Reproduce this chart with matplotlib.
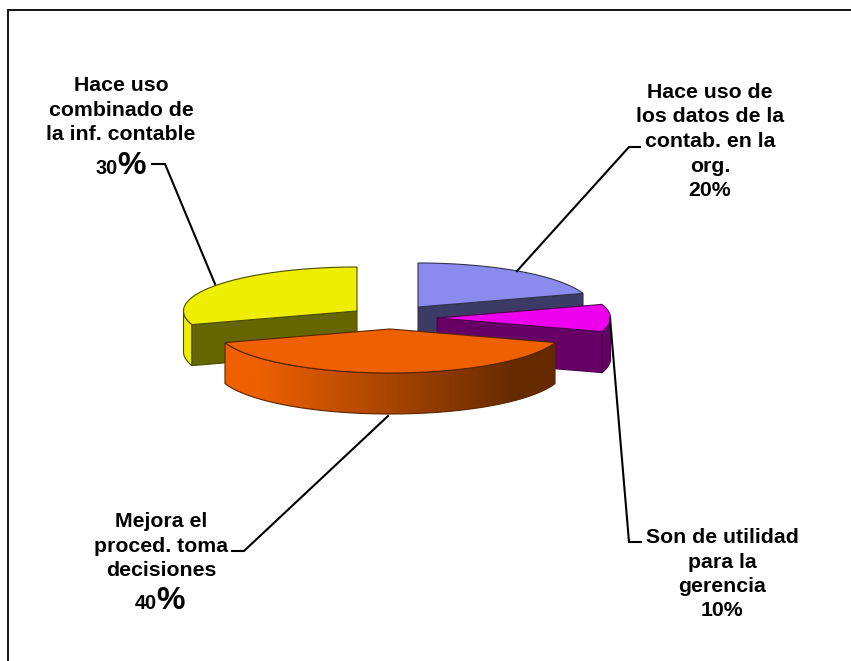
import numpy as np
import matplotlib
matplotlib.use('Agg')
import matplotlib.pyplot as plt
from matplotlib.patches import Polygon
from matplotlib.colors import LinearSegmentedColormap

# Datos del gráfico
categorias = ['Hace uso de\nlos datos de la\ncontab. en la\norg.',
              'Son de utilidad\npara la\ngerencia',
              'Mejora el\nproced. toma\ndecisiones',
              'Hace uso\ncombinado de\nla inf. contable']
porcentajes = [20, 10, 40, 30]

plt.rcParams['font.family'] = ['Liberation Sans', 'DejaVu Sans']

W, H = 851, 661
fig = plt.figure(figsize=(W / 100, H / 100), dpi=100)
ax = fig.add_axes([0, 0, 1, 1])

# Geometria de la torta: elipse, altura y centro de cada porcion separada
RX, RY, ALTO = 173.5, 44, 41
centros = [(418, 307), (437, 318), (390, 329), (357, 311)]
color_sup = ['#8b8bee', '#ee00ee', '#ee6000', '#eeee00']
color_lat = ['#3b3b66', '#660066', None, '#666600']
color_borde = ['#33334d', '#4d004d', '#5a2500', '#4d4d00']


def borde(cx, cy, a0, a1, n=80):
    # angulos en grados, en sentido horario desde las 12
    t = np.radians(np.linspace(a0, a1, n))
    return np.column_stack([cx + RX * np.sin(t), cy - RY * np.cos(t)])


def pared(puntos):
    bajo = puntos[::-1] + [0, ALTO]
    return np.vstack([puntos, bajo])


angulos = np.concatenate([[0], np.cumsum(porcentajes) * 3.6])

for i in range(len(porcentajes)):
    cx, cy = centros[i]
    a0, a1 = angulos[i], angulos[i + 1]
    arco = borde(cx, cy, a0, a1)
    ec = color_borde[i]
    z = {0: 2, 3: 3, 1: 4, 2: 5}[i]

    # pared exterior, solo la parte que mira al frente
    v0, v1 = max(a0, 90), min(a1, 270)
    if v1 > v0:
        muro = pared(borde(cx, cy, v0, v1))
        if color_lat[i] is None:
            # degradado horizontal de la porcion grande
            cmap = LinearSegmentedColormap.from_list(
                'naranja', [(0, '#ee6000'), (0.1, '#ee6000'), (0.88, '#662a00'), (1, '#662a00')])
            x_min, x_max = muro[:, 0].min(), muro[:, 0].max()
            im = ax.imshow(np.linspace(0, 1, 256).reshape(1, -1), cmap=cmap, aspect='auto',
                           extent=[x_min, x_max, muro[:, 1].max(), muro[:, 1].min()], zorder=z)
            poly = Polygon(muro, closed=True, fc='none', ec=ec, lw=0.8, zorder=z + 0.1)
            ax.add_patch(poly)
            im.set_clip_path(poly)
        else:
            ax.add_patch(Polygon(muro, closed=True, fc='#eeee00' if i == 3 else color_lat[i],
                                 ec=ec, lw=0.8, zorder=z))

    # cara de corte visible
    if i == 0 or i == 1:
        corte = pared(np.array([[cx, cy], arco[-1]]))
        ax.add_patch(Polygon(corte, closed=True, fc=color_lat[i], ec=ec, lw=0.8, zorder=z))
    if i == 3:
        corte = pared(np.array([arco[0], [cx, cy]]))
        ax.add_patch(Polygon(corte, closed=True, fc=color_lat[i], ec=ec, lw=0.8, zorder=z))

    # cara superior
    sup = np.vstack([[cx, cy], arco])
    ax.add_patch(Polygon(sup, closed=True, fc=color_sup[i], ec=ec, lw=0.8, zorder=z + 0.2))

# Lineas guia de las etiquetas
guias = [[(640, 147), (629, 147), (517, 271)],
         [(641, 542), (629, 542), (610, 318)],
         [(232, 551), (244, 551), (388, 416)],
         [(152, 164), (165, 164), (215, 284)]]
for g in guias:
    xs, ys = zip(*g)
    ax.plot(xs, ys, color='black', lw=1.5, zorder=6, solid_joinstyle='miter')

# Etiquetas
TAM = 15.3
pos_texto = [(710, 98), (722, 543), (161, 527), (121, 91)]
SALTO = 24.5
for i, cat in enumerate(categorias):
    x, y = pos_texto[i]
    lineas = cat.split('\n')
    for k, lin in enumerate(lineas):
        ax.text(x, y + k * SALTO, lin, ha='center', va='baseline', fontsize=TAM,
                fontweight='bold', color='black', zorder=7)

# Porcentajes pequenos, en la misma columna
for i, y in [(0, 196), (1, 616)]:
    ax.text(pos_texto[i][0], y, f'{porcentajes[i]}%', ha='center', va='baseline',
            fontsize=TAM, fontweight='bold', color='black', zorder=7)

# Porcentajes con el signo mas grande
for i, x, y in [(2, 157, 609), (3, 118, 174)]:
    ax.text(x, y, f'{porcentajes[i]}', ha='right', va='baseline', fontsize=14.3,
            fontweight='bold', color='black', zorder=7)
    ax.text(x - 1, y, '%', ha='left', va='baseline', fontsize=23,
            fontweight='bold', color='black', zorder=7)

# Marco superior e izquierdo
ax.plot([7.5, 7.5, W], [H, 10, 10], color='black', lw=1.3, zorder=1, solid_joinstyle='miter')

ax.set_xlim(0, W)
ax.set_ylim(H, 0)
ax.axis('off')

plt.savefig('out.png', dpi=100)
